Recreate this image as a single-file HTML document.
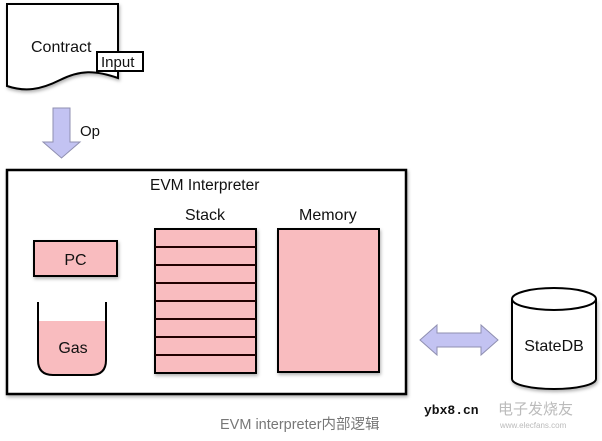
<!DOCTYPE html>
<html><head><style>
body{margin:0;background:#fff;}
svg{display:block;}
text{font-family:"Liberation Sans",Arial,sans-serif;fill:#111;}
</style></head><body>
<svg width="602" height="441" viewBox="0 0 602 441" xmlns="http://www.w3.org/2000/svg">
<defs><filter id="sh" x="-10%" y="-10%" width="130%" height="130%"><feDropShadow dx="1" dy="2" stdDeviation="1.5" flood-color="#000" flood-opacity="0.3"/></filter></defs>
<path d="M7,4 L118,4 L118,78 C95,70 80,70 60,80 C40,90 25,92 7,86 Z" fill="#fff" stroke="#000" stroke-width="2" filter="url(#sh)"/>
<text x="31" y="52" font-size="16">Contract</text>
<rect x="97" y="52" width="46" height="19" fill="#fff" stroke="#000" stroke-width="2"/>
<text x="101" y="67" font-size="15">Input</text>
<path d="M53,108 L70,108 L70,142 L80,142 L61.5,158 L43,142 L53,142 Z" fill="#c3c3f2" stroke="#8f8fb0" stroke-width="1"/>
<text x="80" y="136" font-size="15">Op</text>
<rect x="7" y="170" width="399" height="224" fill="#fff" stroke="#000" stroke-width="2.5" filter="url(#sh)"/>
<text x="150" y="190" font-size="15.5">EVM Interpreter</text>
<text x="185" y="220" font-size="16">Stack</text>
<text x="299" y="220" font-size="16">Memory</text>
<rect x="34" y="241" width="83" height="35" fill="#f9bcbf" stroke="#000" stroke-width="2" filter="url(#sh)"/>
<text x="75.5" y="265" font-size="16" text-anchor="middle">PC</text>
<path d="M38,321 L106,321 L106,360 Q106,375 91,375 L53,375 Q38,375 38,360 Z" fill="#f9bcbf"/>
<path d="M38,302 L38,360 Q38,375 53,375 L91,375 Q106,375 106,360 L106,302" fill="none" stroke="#000" stroke-width="2"/>
<text x="73" y="353" font-size="16" text-anchor="middle">Gas</text>
<rect x="155" y="229" width="101" height="144" fill="#f9bcbf" stroke="#000" stroke-width="2" filter="url(#sh)"/>
<g stroke="#200" stroke-width="2">
<line x1="155" y1="247" x2="256" y2="247"/><line x1="155" y1="265" x2="256" y2="265"/>
<line x1="155" y1="283" x2="256" y2="283"/><line x1="155" y1="301" x2="256" y2="301"/>
<line x1="155" y1="319" x2="256" y2="319"/><line x1="155" y1="337" x2="256" y2="337"/>
<line x1="155" y1="355" x2="256" y2="355"/>
</g>
<rect x="278" y="229" width="101" height="143" fill="#f9bcbf" stroke="#000" stroke-width="2" filter="url(#sh)"/>
<path d="M420,340 L437,325 L437,333 L481,333 L481,325 L498,340 L481,355 L481,347 L437,347 L437,355 Z" fill="#c3c3f2" stroke="#8f8fb0" stroke-width="1"/>
<path d="M512,299 L512,379 A42,10 0 0 0 596,379 L596,299" fill="#fff" stroke="#000" stroke-width="2" filter="url(#sh)"/>
<ellipse cx="554" cy="299" rx="42" ry="11" fill="#fff" stroke="#000" stroke-width="2"/>
<text x="554" y="351" font-size="16" text-anchor="middle">StateDB</text>
<text x="220" y="429" font-size="14.5" style="fill:#777;font-family:'Liberation Sans','Noto Sans CJK SC',sans-serif">EVM interpreter内部逻辑</text>
<text x="424" y="414" font-size="13" font-weight="bold" style="font-family:'Liberation Mono',monospace">ybx8.cn</text>
<text x="498" y="414" font-size="15" style="fill:#bbb;font-family:'Noto Sans CJK SC',sans-serif">电子发烧友</text>
<text x="500" y="428" font-size="8" style="fill:#bbb">www.elecfans.com</text>
</svg>
</body></html>
